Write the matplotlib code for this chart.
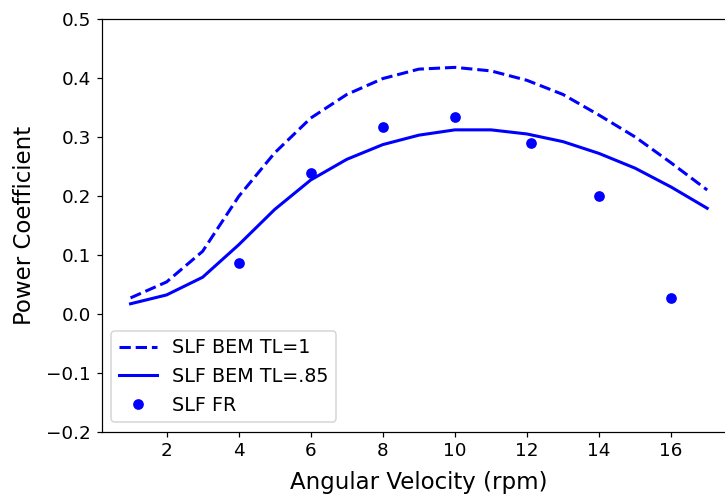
import matplotlib
matplotlib.use("Agg")
import matplotlib.pyplot as plt

rpm = [1, 2, 3, 4, 5, 6, 7, 8, 9, 10, 11, 12, 13, 14, 15, 16, 17]
cp_tl1 = [0.027, 0.054, 0.106, 0.199, 0.273, 0.332, 0.372, 0.399, 0.415, 0.418,
          0.412, 0.396, 0.372, 0.337, 0.300, 0.256, 0.210]
cp_tl085 = [0.017, 0.032, 0.062, 0.117, 0.177, 0.227, 0.262, 0.287, 0.303, 0.312,
            0.312, 0.305, 0.292, 0.272, 0.247, 0.215, 0.179]
fr_rpm = [4, 6, 8, 10, 12.1, 14, 16]
fr_cp = [0.087, 0.239, 0.316, 0.334, 0.289, 0.199, 0.027]

dpi = 110
fig = plt.figure(figsize=(725 / dpi, 494 / dpi), dpi=dpi)
ax = fig.add_axes([0.1403, 0.1261, 0.8749, 0.8354])

ax.plot(rpm, cp_tl1, color="blue", linestyle="--", linewidth=2, label="SLF BEM TL=1")
ax.plot(rpm, cp_tl085, color="blue", linestyle="-", linewidth=2, label="SLF BEM TL=.85")
ax.plot(fr_rpm, fr_cp, color="blue", linestyle="none", marker="o", markersize=6,
        label="SLF FR")

ax.set_ylim(-0.2, 0.5)
ax.set_xticks([2, 4, 6, 8, 10, 12, 14, 16])
ax.set_yticks([-0.2, -0.1, 0.0, 0.1, 0.2, 0.3, 0.4, 0.5])
ax.tick_params(labelsize=12)
ax.set_xlabel("Angular Velocity (rpm)", fontsize=15, labelpad=7)
ax.set_ylabel("Power Coefficient", fontsize=15, labelpad=7)
ax.legend(loc="lower left", fontsize=12.5)

fig.savefig("out.png", dpi=dpi)
